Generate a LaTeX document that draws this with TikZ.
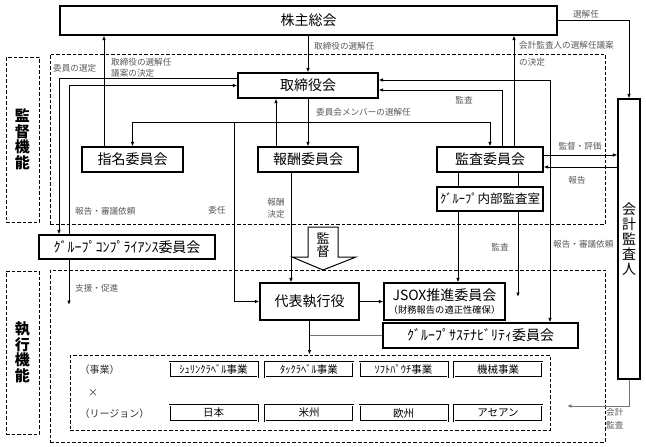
\documentclass[tikz,border=0pt]{standalone}
\usepackage{fontspec}
\setmainfont{Noto Sans CJK JP}
\usetikzlibrary{positioning,arrows.meta}

\tikzset{
  box/.style={draw, line width=1.1pt, fill=white, inner sep=0pt, font=\fontsize{14}{14}\selectfont},
  lbl/.style={font=\fontsize{8.6}{11}\selectfont, text=black!65, inner sep=1pt},
  area/.style={draw, line width=1pt, dash pattern=on 3.5pt off 2pt, inner sep=0pt},
  unit/.style={draw, double, double distance=1pt, line width=0.5pt, inner sep=0pt, minimum width=88pt, font=\fontsize{10.5}{10.5}\selectfont},
  vlabel/.style={align=center, font=\fontsize{15}{15.5}\selectfont\bfseries},
  link/.style={line width=0.9pt},
  arr/.style={-{Latex[length=4.5pt,width=3.5pt]}},
  arrboth/.style={{Latex[length=4.5pt,width=3.5pt]}-{Latex[length=4.5pt,width=3.5pt]}}
}

\begin{document}
\begin{tikzpicture}[x=1pt, y=-1pt]
  \useasboundingbox (0,0) rectangle (646,447);

  % areas
  \node[area, minimum width=555pt, minimum height=170pt] (kantokuarea) at (327.5,139) {};
  \node[area, minimum width=555pt, minimum height=172pt] (shikkouarea) at (327.5,356) {};
  \node[area, minimum width=33pt, minimum height=165pt, vlabel] (kantokukino) at (22.5,139.5) {監\\督\\機\\能};
  \node[area, minimum width=33pt, minimum height=163pt, vlabel] (shikkoukino) at (22.5,352.5) {執\\行\\機\\能};
  \node[area, minimum width=480pt, minimum height=75pt] (jigyoarea) at (310,392.5) {};

  % boxes
  \node[box, minimum width=497pt, minimum height=29pt] (kabunushi) at (308.5,20.5) {株主総会};
  \node[box, minimum width=140pt, minimum height=25pt] (torishimari) at (308,85.5) {取締役会};
  \node[box, minimum width=101pt, minimum height=25pt] (shimei) at (132.5,159.5) {指名委員会};
  \node[box, minimum width=100pt, minimum height=25pt] (houshu) at (308,159.5) {報酬委員会};
  \node[box, minimum width=106pt, minimum height=25pt] (kansa) at (490,159.5) {監査委員会};
  \node[box, minimum width=106pt, minimum height=24pt, font=\fontsize{12.5}{12.5}\selectfont] (naibu) at (490,199) {ｸﾞﾙｰﾌﾟ内部監査室};
  \node[box, minimum width=176pt, minimum height=24pt] (compliance) at (127,247) {ｸﾞﾙｰﾌﾟｺﾝﾌﾟﾗｲｱﾝｽ委員会};
  \node[box, minimum width=99pt, minimum height=37pt] (daihyo) at (309.5,301.5) {代表執行役};
  \node[box, minimum width=121pt, minimum height=37pt, align=center] (jsox) at (444.5,301.5)
    {JSOX推進委員会\\[-1pt]{\fontsize{9.3}{10}\selectfont （財務報告の適正性確保）}};
  \node[box, minimum width=195pt, minimum height=25pt] (sustain) at (480.5,335.5) {ｸﾞﾙｰﾌﾟｻｽﾃﾅﾋﾞﾘﾃｨ委員会};
  \node[box, minimum width=22pt, minimum height=280pt, align=center, font=\fontsize{14}{15}\selectfont] (kaikei) at (629,239) {会\\計\\監\\査\\人};

  % business x region
  \foreach \name/\x/\jigyo/\region in {a/213.5/ｼｭﾘﾝｸﾗﾍﾞﾙ事業/日本, b/309/ﾀｯｸﾗﾍﾞﾙ事業/米州, c/403.5/ｿﾌﾄﾊﾟｳﾁ事業/欧州, d/498/機械事業/アセアン} {
    \node[unit, minimum height=15pt] (jigyo\name) at (\x,369.5) {\jigyo};
    \node[unit, minimum height=16pt] (region\name) at (\x,413) {\region};
  }
  \node[anchor=west, font=\fontsize{10}{10}\selectfont, text=black!80] (jigyolbl) at (76,370) {（事業）};
  \node[font=\fontsize{10}{10}\selectfont, text=black!80] (kakeru) at (93,393) {×};
  \node[anchor=west, font=\fontsize{10}{10}\selectfont, text=black!80] (regionlbl) at (76,414) {（リージョン）};

  % supervision arrow
  \draw[line width=1pt, fill=white] (308,227) -- (338,227) -- (338,257) -- (356,257) -- (323,270) -- (292,257) -- (308,257) -- cycle;
  \node[align=center, font=\fontsize{13}{13}\selectfont] (kantokuya) at (323,245) {監\\督};

  % free ends
  \coordinate (bus) at (308,122);
  \coordinate (ininturn) at (234,122);
  \coordinate (naibuend) at (518,297);
  \coordinate (shienend) at (69,305);
  \coordinate (kaikeiend) at (567,406);

  % connectors
  \draw[link, arr] (kabunushi.east) -| (kaikei.north);
  \draw[link, arr] (kabunushi.south -| torishimari.north) -- (torishimari.north);
  \draw[link, arr] ([xshift=-28.5pt]shimei.north) -- ([xshift=-28.5pt]shimei.north |- kabunushi.south);
  \draw[link] (bus -| shimei.north) -- (bus -| kansa.north);
  \draw[link, arr] (bus -| shimei.north) -- (shimei.north);
  \draw[link, arr] (bus -| kansa.north) -- (kansa.north);
  \draw[link, arr] (torishimari.south) -- (houshu.north);
  \draw[link, arr] ([xshift=-32pt]houshu.north) -- ([xshift=-32pt]houshu.north |- torishimari.south);
  \draw[link, arr] (ininturn) |- (daihyo.west);
  \draw[link, arr] ([xshift=-17pt]houshu.south) -- ([xshift=-17pt]houshu.south |- daihyo.north);
  \draw[link, arr] ([xshift=12pt]kansa.north) |- ([yshift=-4.5pt]torishimari.east);
  \draw[link, arr] ([xshift=24pt]kansa.north) -- ([xshift=24pt]kansa.north |- kabunushi.south);
  \draw[link, arrboth] ([xshift=69.5pt]sustain.north) |- ([yshift=5.5pt]torishimari.east);
  \draw[link, arr] ([yshift=4.5pt]kansa.east) -- ([yshift=4.5pt]kansa.east -| kaikei.west);
  \draw[link, arr] ([yshift=-7.5pt]kansa.east -| kaikei.west) -- ([yshift=-7.5pt]kansa.east);
  \draw[link] ([xshift=-32pt]kansa.south) -- ([xshift=-32pt]naibu.north);
  \draw[link] ([xshift=28pt]kansa.south) -- ([xshift=28pt]naibu.north);
  \draw[link, arr] ([xshift=-32pt]naibu.south) -- ([xshift=-32pt]naibu.south |- jsox.north);
  \draw[link, arr] ([xshift=28pt]naibu.south) -- (naibuend);
  \draw[link, arr] ([yshift=7.5pt]torishimari.west) -| ([xshift=-68pt]compliance.north);
  \draw[link, arr] ([xshift=-58pt]compliance.north) |- (torishimari.west);
  \draw[link, arr] ([xshift=-58pt]compliance.south) -- (shienend);
  \draw[link, arr] (daihyo.east) -- (jsox.west);
  \draw[link, arr] (daihyo.south) -- (daihyo.south |- jigyoarea.north);
  \draw[link, black!55] (daihyo.south |- sustain.west) -- (sustain.west);
  \draw[link, arr, black!55] (kaikei.south) |- (kaikeiend);

  % labels
  \node[lbl] (senkaininlbl) at (586,14) {選解任};
  \node[lbl, anchor=west] (torisenlbl) at (313,46) {取締役の選解任};
  \node[lbl, anchor=west, align=left, font=\fontsize{8.6}{17}\selectfont] (kaikeigianlbl) at (518,53.5) {会計監査人の選解任議案\\の決定};
  \node[lbl, anchor=west] (senteilbl) at (52,68) {委員の選定};
  \node[lbl, anchor=west, align=left] (gianlbl) at (110,67.5) {取締役の選解任\\議案の決定};
  \node[lbl, anchor=west] (memberlbl) at (315,112) {委員会メンバーの選解任};
  \node[lbl] (kansalbl) at (464,100) {監査};
  \node[lbl] (hyokalbl) at (580,146) {監督・評価};
  \node[lbl] (hokokulbl) at (577,180) {報告};
  \node[lbl, anchor=west] (shingilbl) at (74,211) {報告・審議依頼};
  \node[lbl] (ininlbl) at (217,210) {委任};
  \node[lbl, align=center, font=\fontsize{8.6}{12}\selectfont] (houshulbl) at (276,208) {報酬\\決定};
  \node[lbl] (naibulbl) at (500,247) {監査};
  \node[lbl, anchor=west] (sustainlbl) at (552,244) {報告・審議依頼};
  \node[lbl, anchor=west] (shienlbl) at (74,288) {支援・促進};
  \node[lbl, anchor=west, align=left, font=\fontsize{8.6}{13}\selectfont] (kaikeikansalbl) at (605,418.5) {会計\\監査};
\end{tikzpicture}
\end{document}
